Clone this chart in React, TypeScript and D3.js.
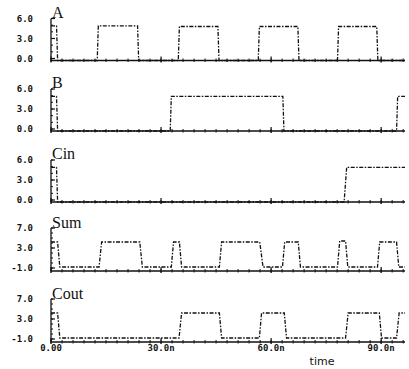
import React from "react";
import * as d3 from "d3";

// signal names, top to bottom
const signalNames = ["A", "B", "Cin", "Sum", "Cout"];

// time axis (ns)
const timeTicks = [0, 30, 60, 90];
const timeTickLabels = ["0.00", "30.0n", "60.0n", "90.0n"];

// voltage ticks
const inputTicks = [6, 3, 0];
const inputTickLabels = ["6.0", "3.0", "0.0"];
const outputTicks = [7, 3, -1];
const outputTickLabels = ["7.0", "3.0", "-1.0"];

// waveforms as [time ns, volts] breakpoints
const waveA = [
  [0, 4.9], [1.5, 4.9], [1.8, -0.3], [12.6, -0.3], [12.9, 4.9], [23.6, 4.9],
  [23.9, -0.3], [34.7, -0.3], [35.0, 4.8], [45.5, 4.8], [45.8, -0.3],
  [56.5, -0.3], [56.8, 4.8], [67.3, 4.8], [67.6, -0.3], [78.1, -0.3],
  [78.4, 4.8], [88.8, 4.8], [89.1, -0.3], [96.5, -0.3],
];
const waveB = [
  [0, 4.9], [1.5, 4.9], [1.8, -0.3], [32.5, -0.3], [32.8, 4.9], [63.2, 4.9],
  [63.5, -0.3], [94.2, -0.3], [94.5, 4.9], [96.5, 4.9],
];
const waveCin = [
  [0, 4.9], [1.5, 4.9], [1.8, -0.3], [79.9, -0.3], [80.6, 4.9], [96.5, 4.9],
];
const waveSum = [
  [0, 4.2], [1.8, 4.2], [2.4, -0.8], [13.1, -0.8], [13.8, 4.2], [24.2, 4.2],
  [24.9, -0.8], [32.8, -0.8], [33.4, 4.2], [35.0, 4.2], [35.6, -0.8],
  [45.9, -0.8], [46.5, 4.2], [56.9, 4.2], [57.8, -0.8], [63.1, -0.8],
  [63.7, 4.2], [67.4, 4.2], [68.0, -0.8], [78.1, -0.8], [78.7, 4.4],
  [80.3, 4.4], [80.9, -0.8], [89.0, -0.8], [89.6, 4.2], [94.2, 4.2],
  [94.8, -0.8], [96.5, -0.8],
];
const waveCout = [
  [0, 4.2], [1.8, 4.2], [2.4, -0.8], [34.9, -0.8], [35.6, 4.2], [45.9, 4.2],
  [46.5, -0.8], [56.8, -0.8], [57.4, 4.2], [63.6, 4.2], [64.2, -0.8],
  [80.3, -0.8], [81.0, 4.2], [89.5, 4.2], [90.1, -0.8], [94.2, -0.8],
  [94.9, 4.2], [96.5, 4.2],
];

const waves = [waveA, waveB, waveCin, waveSum, waveCout];

const width = 409,
  height = 369;
const baselines = [60.5, 131, 202, 271, 342];

const monoFont = "'DejaVu Sans Mono', monospace";

function Panel({ index, x }) {
  const base = baselines[index];
  const isOutput = index >= 3;
  const y = isOutput
    ? d3.scaleLinear().domain([-1.6, 7]).range([base, base - 43])
    : d3.scaleLinear().domain([-0.3, 6]).range([base, base - 42]);
  const ticks = isOutput ? outputTicks : inputTicks;
  const labels = isOutput ? outputTickLabels : inputTickLabels;
  const minor = isOutput ? d3.range(-1, 8, 1) : d3.range(0, 7, 1);
  const [x0, x1] = x.range();

  const line = d3
    .line()
    .x(d => x(d[0]))
    .y(d => y(d[1]));

  return (
    <g>
      <text
        x={52}
        y={base - 43}
        fontFamily="'Liberation Serif', serif"
        fontSize={16}
        fill="#111"
      >
        {signalNames[index]}
      </text>
      {/* y axis */}
      <line x1={x0} x2={x0} y1={base} y2={y(ticks[0])} stroke="#111" strokeWidth={1.3} />
      {minor.map(v => (
        <line key={v} x1={x0} x2={x0 + 2} y1={y(v)} y2={y(v)} stroke="#111" strokeWidth={1} />
      ))}
      {ticks.map((v, i) => (
        <g key={v}>
          <line x1={x0} x2={x0 + 4} y1={y(v)} y2={y(v)} stroke="#111" strokeWidth={1.2} />
          <text
            x={33}
            y={y(v)}
            dy="0.35em"
            textAnchor="end"
            fontFamily={monoFont}
            fontWeight="bold"
            fontSize={9}
            fill="#111"
          >
            {labels[i]}
          </text>
        </g>
      ))}
      {/* time axis */}
      <line x1={x0} x2={x1} y1={base} y2={base} stroke="#111" strokeWidth={1.3} />
      {d3.range(0, 97, 3).map(t => (
        <line key={t} x1={x(t)} x2={x(t)} y1={base - 2} y2={base + 1.5} stroke="#111" strokeWidth={1} />
      ))}
      {timeTicks.map(t => (
        <line key={t} x1={x(t)} x2={x(t)} y1={base - 4} y2={base + 2} stroke="#111" strokeWidth={1.2} />
      ))}
      <path
        d={line(waves[index])}
        fill="none"
        stroke="#111"
        strokeWidth={1.3}
        strokeDasharray="4 1.5 1.5 1.5"
      />
    </g>
  );
}

export default function App() {
  const x = d3.scaleLinear().domain([0, 96.5]).range([51, 405]);
  const bottom = baselines[baselines.length - 1];

  return (
    <svg
      width={width}
      height={height}
      style={{ position: "absolute", left: 0, top: 0, background: "#fff" }}
    >
      {signalNames.map((name, i) => (
        <Panel key={name} index={i} x={x} />
      ))}
      {timeTicks.map((t, i) => (
        <text
          key={t}
          x={x(t)}
          y={bottom + 9}
          textAnchor="middle"
          fontFamily={monoFont}
          fontWeight="bold"
          fontSize={9}
          fill="#111"
        >
          {timeTickLabels[i]}
        </text>
      ))}
      <text
        x={322}
        y={bottom + 23}
        textAnchor="middle"
        fontFamily="'DejaVu Sans', sans-serif"
        fontSize={11}
        fill="#111"
      >
        time
      </text>
    </svg>
  );
}
